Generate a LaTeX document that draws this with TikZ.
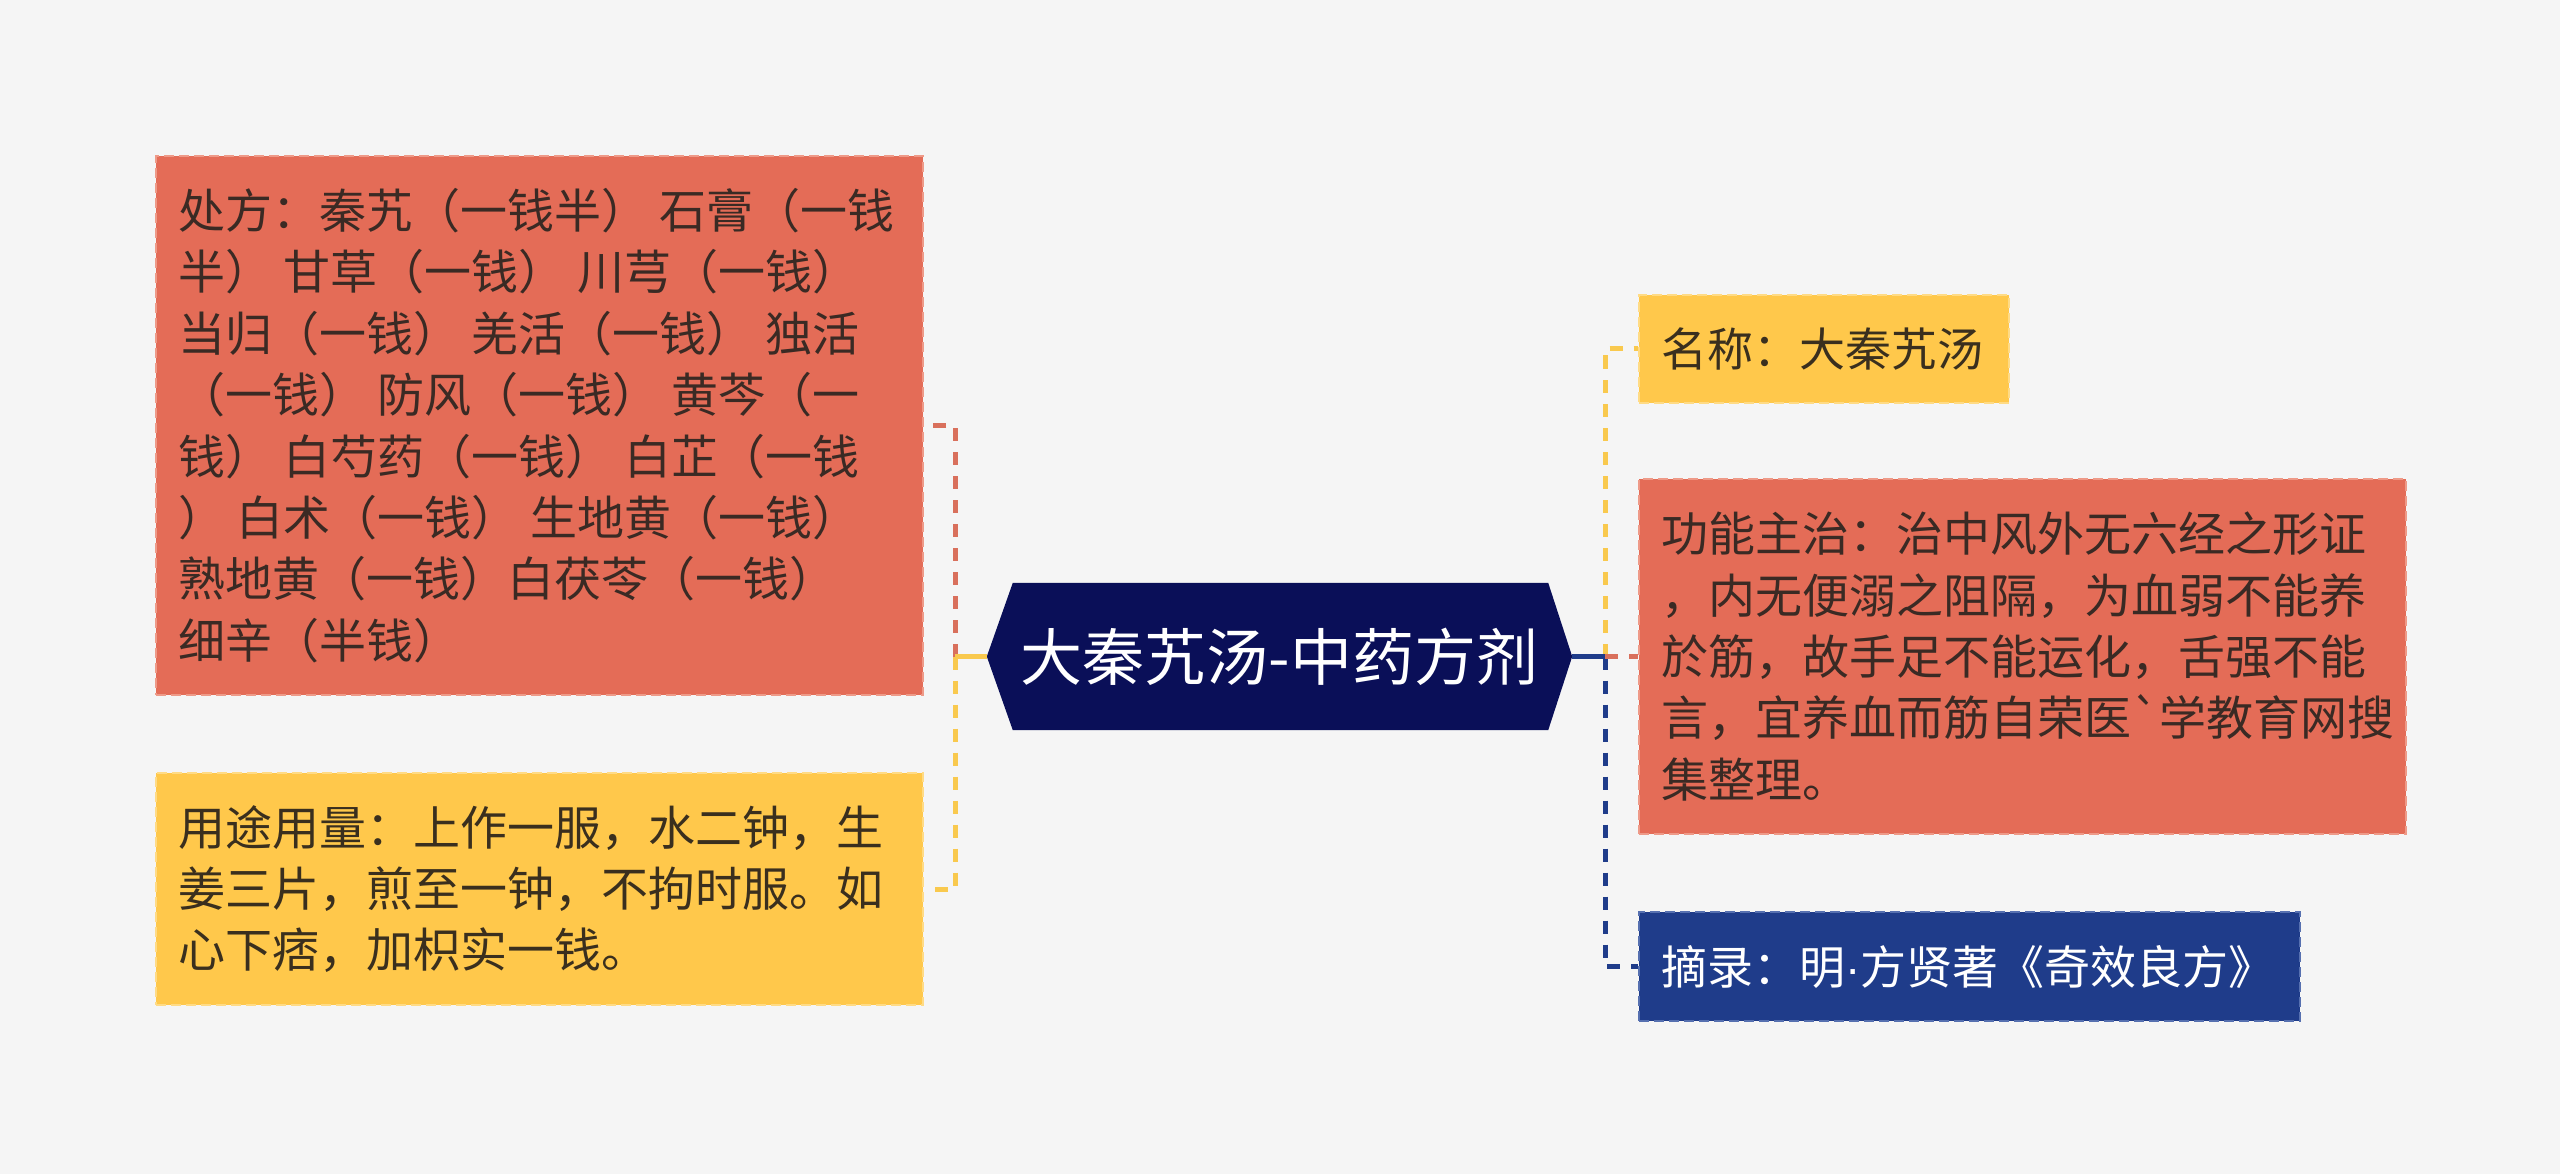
\documentclass[tikz,border=0pt]{standalone}
\usepackage{fontspec}
\newfontfamily\cjk{Noto Sans CJK SC}
\newfontfamily\latinf{Liberation Sans}
\newcommand\sq{\kern12pt\relax}
\usetikzlibrary{backgrounds}
\definecolor{pagebg}{HTML}{F5F5F5}
\definecolor{boxred}{HTML}{E46C57}
\definecolor{boxredline}{HTML}{EE9A88}
\definecolor{boxyel}{HTML}{FFC84B}
\definecolor{boxyelline}{HTML}{FFDB85}
\definecolor{boxblue}{HTML}{1F3C8A}
\definecolor{boxblueline}{HTML}{5670B0}
\definecolor{navy}{HTML}{0A0F58}
\definecolor{txtdark}{HTML}{3A2A24}
\definecolor{txtyel}{HTML}{3A2F1E}
\definecolor{conred}{HTML}{D9705C}
\definecolor{conyel}{HTML}{F9C94E}
\definecolor{conblue}{HTML}{1F3C8A}
\tikzset{
  box/.style={rectangle, inner xsep=22pt, inner ysep=0pt, align=left, anchor=north west,
    line width=2pt, dash pattern=on 10pt off 5pt, font=\cjk\fontsize{47}{61.4}\selectfont},
  redbox/.style={box, fill=boxred, draw=boxredline, text=txtdark},
  yelbox/.style={box, fill=boxyel, draw=boxyelline, text=txtyel},
  bluebox/.style={box, fill=boxblue, draw=boxblueline, text=white},
  con/.style={line width=5pt},
  dcon/.style={con, dash pattern=on 13pt off 11pt},
}
\begin{document}
\begin{tikzpicture}[x=1pt,y=1pt]
\useasboundingbox (0,0) rectangle (2560,-1174);

% left boxes
\node[redbox, text width=723pt, minimum height=539pt] (rx) at (155,-155)
 {处方：秦艽（一钱半）\sq 石膏（一钱\\
  半）\sq 甘草（一钱）\sq 川芎（一钱）\\
  当归（一钱）\sq 羌活（一钱）\sq 独活\\
  （一钱）\sq 防风（一钱）\sq 黄芩（一\\
  钱）\sq 白芍药（一钱）\sq 白芷（一钱\\
  ）\sq 白术（一钱）\sq 生地黄（一钱）\\
  熟地黄（一钱）白茯苓（一钱）\\
  细辛（半钱）};
\node[yelbox, text width=723pt, minimum height=232pt] (yx) at (155,-772)
 {用途用量：上作一服，水二钟，生\\
  姜三片，煎至一钟，不拘时服。如\\
  心下痞，加枳实一钱。};

% right boxes
\node[yelbox, text width=326pt, minimum height=108pt, font=\cjk\fontsize{46}{60}\selectfont] (mc) at (1638,-294)
 {名称：大秦艽汤};
\node[redbox, text width=723pt, minimum height=355pt] (gn) at (1638,-478)
 {功能主治：治中风外无六经之形证\\
  ，内无便溺之阻隔，为血弱不能养\\
  於筋，故手足不能运化，舌强不能\\
  言，宜养血而筋自荣医{\char"60}学教育网搜\\
  集整理。};
\node[bluebox, text width=617pt, minimum height=109pt, font=\cjk\fontsize{46}{60}\selectfont] (zl) at (1638,-911)
 {摘录：明{\latinf ·}方贤著《奇效良方》};

% root
\node[font=\cjk\fontsize{62}{74}\selectfont, text=white, minimum width=585pt,
      minimum height=147pt, inner sep=0pt] (root) at (1279.5,-656.5) {大秦艽汤-中药方剂};

% junctions
\coordinate (lj) at (955,-656.5);
\coordinate (rj) at (1605,-656.5);

% left connectors
\draw[dcon, conred] (lj) |- (rx.east);
\draw[dcon, conyel] (lj) |- (yx.east);
\draw[con, conyel] (root.west) -- (lj);

% right connectors
\draw[dcon, conyel] (rj) |- (mc.west);
\draw[dcon, conblue] (rj) |- (zl.west);
\draw[dcon, conred] (rj) -- (gn.west);
\draw[con, conblue] (root.east) -- (rj);

\begin{scope}[on background layer]
\fill[pagebg] (0,0) rectangle (2560,-1174);
\fill[navy] (root.west) -- ([xshift=26pt]root.north west) -- ([xshift=-24pt]root.north east)
  -- (root.east) -- ([xshift=-24pt]root.south east) -- ([xshift=26pt]root.south west) -- cycle;
\end{scope}
\end{tikzpicture}
\end{document}
